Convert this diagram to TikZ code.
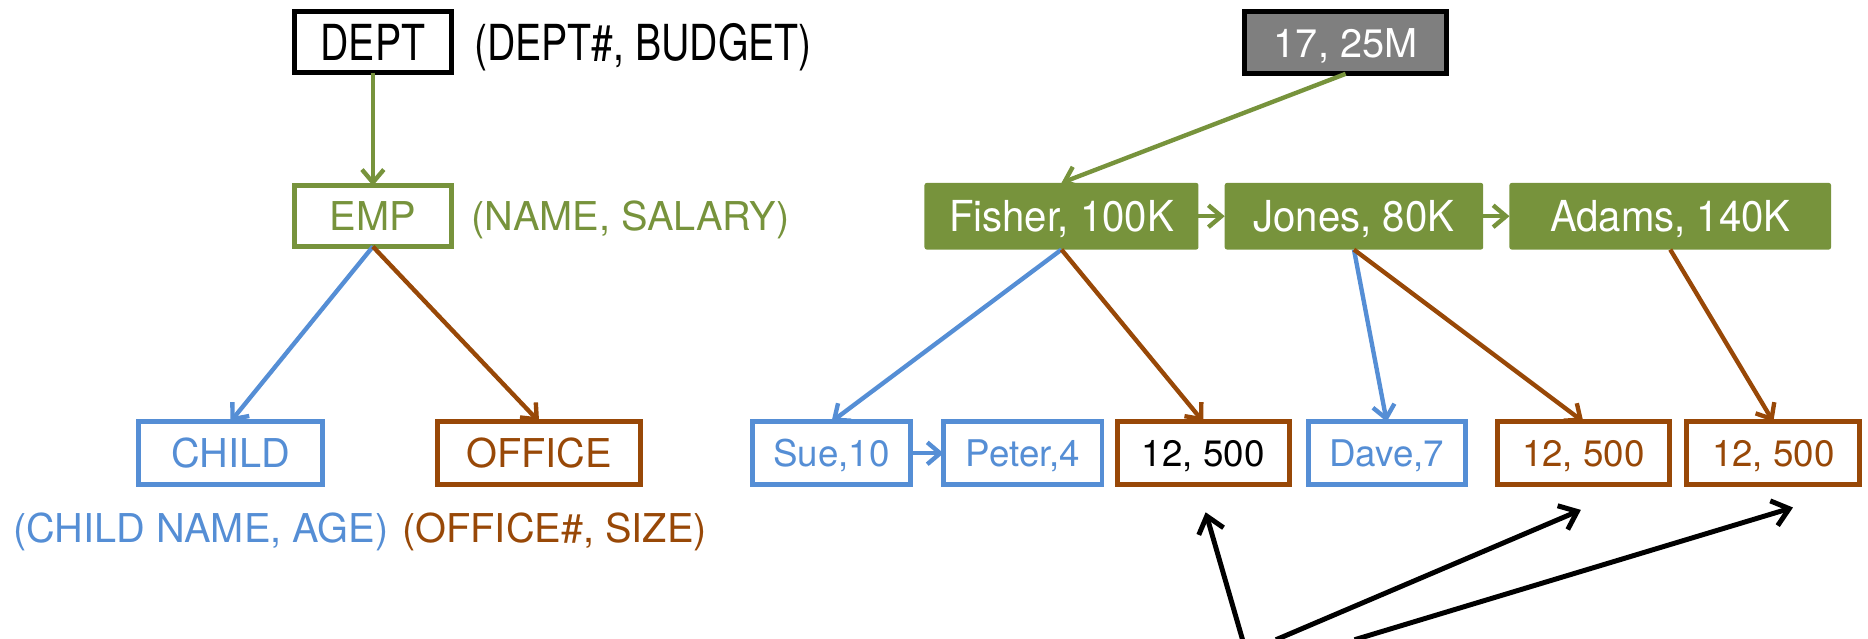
\documentclass[tikz,border=0pt]{standalone}
\usepackage{fontspec}
\setmainfont{TeX Gyre Heros}
\newfontfamily\narrowfont[FakeStretch=0.79]{TeX Gyre Heros}
\newfontfamily\slimfont[FakeStretch=0.94]{TeX Gyre Heros}
\usetikzlibrary{arrows.meta}
\definecolor{olive}{HTML}{77933C}
\definecolor{skyblue}{HTML}{558ED5}
\definecolor{rust}{HTML}{984807}
\definecolor{slate}{HTML}{7F7F7F}
\begin{document}
\begin{tikzpicture}[x=0.6pt,y=-0.6pt,
  every node/.style={inner sep=0pt, outer sep=0pt,
    font=\fontsize{20}{24}\selectfont, text height=14.4pt, text depth=0pt},
  large/.style={font=\narrowfont\fontsize{25}{30}\selectfont, text height=18pt},
  mid/.style={font=\slimfont\fontsize{21.5}{26}\selectfont, text height=15.5pt},
  small/.style={font=\fontsize{18.5}{22}\selectfont, text height=13.3pt},
  sz/.style 2 args={minimum width={(#1-4)*0.6pt}, minimum height={(#2-4)*0.6pt}},
  osz/.style 2 args={minimum width={#1*0.6pt}, minimum height={#2*0.6pt}},
  box/.style={draw=#1, line width=2.5pt, fill=white},
  filled/.style={fill=olive, text=white, rounded corners=1.2pt},
  link/.style={draw=#1, line width=2.2pt,
    -{Straight Barb[length=6.5pt,width=11pt,line width=2.2pt]}},
  pointer/.style={draw=black, line width=2.5pt,
    -{Straight Barb[length=8pt,width=13pt,line width=2.5pt]}},
]
\useasboundingbox (0,0) rectangle (1568,536);

% ---- schema ----
\node[box=black, large, sz={136}{55}] (dept) at (313,35.5) {DEPT};
\node[anchor=west, large] (deptattr) at (398,35.5) {(DEPT\#, BUDGET)};
\node[box=olive, text=olive, sz={136}{55}] (emp) at (313,181.5) {EMP};
\node[anchor=west, text=olive] (empattr) at (396,181.5) {(NAME, SALARY)};
\node[box=skyblue, text=skyblue, sz={159}{57}] (child) at (193.5,380.5) {CHILD};
\node[box=rust, text=rust, sz={175}{57}] (office) at (452.5,380.5) {OFFICE};
\node[text=skyblue] (childattr) at (168.5,443) {(CHILD NAME, AGE)};
\node[text=rust] (officeattr) at (465.5,443) {(OFFICE\#, SIZE)};

\draw[link=olive] (dept.south) -- (emp.north);
\draw[link=skyblue] (emp.south) -- (child.north);
\draw[link=rust] (emp.south) -- (office.north);

% ---- instance ----
\node[draw=black, fill=slate, text=white, line width=2.5pt, sz={173}{56}] (root) at (1129.5,36) {17, 25M};
\node[filled, mid, osz={230}{56}] (fisher) at (891,181.5) {Fisher, 100K};
\node[filled, mid, osz={217}{56}] (jones) at (1136.5,181.5) {Jones, 80K};
\node[filled, mid, osz={270}{56}] (adams) at (1402,181.5) {Adams, 140K};

\node[box=skyblue, text=skyblue, small, sz={136}{57}] (sue) at (698,380.5) {Sue,10};
\node[box=skyblue, text=skyblue, small, sz={137}{57}] (peter) at (858.5,380.5) {Peter,4};
\node[box=rust, text=black, small, sz={148}{57}] (off1) at (1010,380.5) {12, 500};
\node[box=skyblue, text=skyblue, small, sz={136}{57}] (dave) at (1164,380.5) {Dave,7};
\node[box=rust, text=rust, small, sz={148}{57}] (off2) at (1329,380.5) {12, 500};
\node[box=rust, text=rust, small, sz={149}{57}] (off3) at (1488.5,380.5) {12, 500};

\draw[link=olive] (root.south) -- (fisher.north);
\draw[link=olive] (fisher.east) -- (jones.west);
\draw[link=olive] (jones.east) -- (adams.west);
\draw[link=skyblue] (sue.east) -- (peter.west);

\draw[link=skyblue] (fisher.south) -- (sue.north);
\draw[link=rust] (fisher.south) -- (off1.north);
\draw[link=skyblue] (jones.south) -- (dave.north);
\draw[link=rust] (jones.south) -- (off2.north);
\draw[link=rust] (adams.south) -- (off3.north);

% ---- pointers to the repeated office records ----
\coordinate (s1) at (1043,537);
\coordinate (s2) at (1071,537);
\coordinate (s3) at (1137,537);
\coordinate (t1) at (1012,430);
\coordinate (t2) at (1327,428);
\coordinate (t3) at (1505,426);
\draw[pointer] (s1) -- (t1);
\draw[pointer] (s2) -- (t2);
\draw[pointer] (s3) -- (t3);
\end{tikzpicture}
\end{document}
